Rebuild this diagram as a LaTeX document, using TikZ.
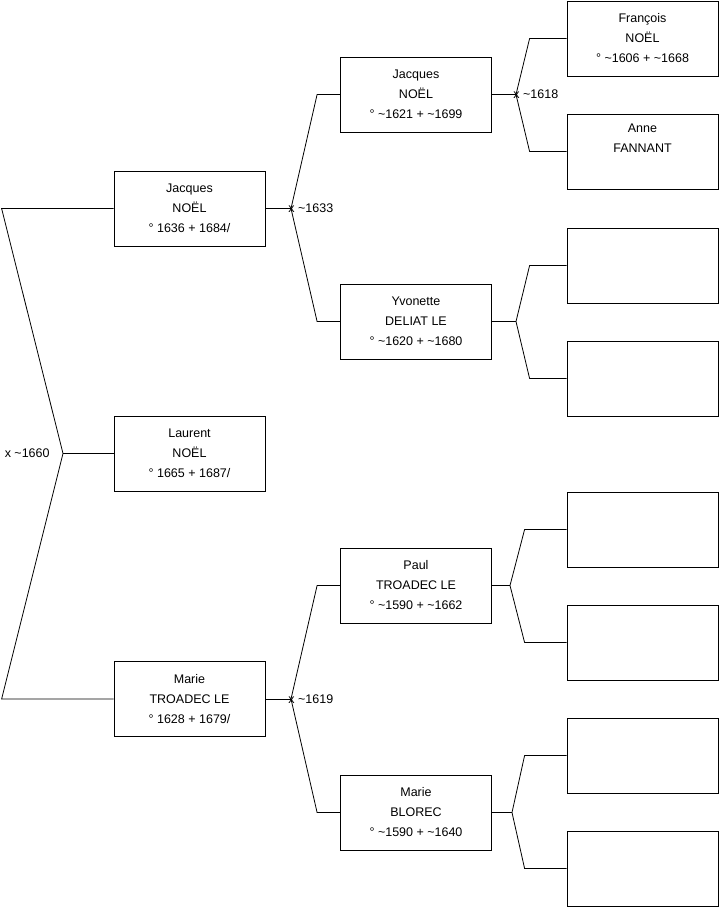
\documentclass[tikz,border=0pt]{standalone}
\usepackage{fontspec}
\setmainfont{Liberation Sans}
\usetikzlibrary{positioning}

\begin{document}
\begin{tikzpicture}[x=1pt, y=-1pt, line width=0.8pt,
    pbox/.style={rectangle, draw=black, minimum width=151pt, minimum height=75pt,
      inner sep=2pt, align=center, font=\fontsize{12.5}{20}\selectfont},
    mlabel/.style={inner sep=0pt, font=\fontsize{12.5}{14}\selectfont}
  ]
  \useasboundingbox (0,0) rectangle (719,908);
  % generation 1
  \node[pbox] (jacques) at (189.5,208.5) {Jacques\\NOËL\\° 1636 + 1684/};
  \node[pbox] (laurent) at (189.5,453.5) {Laurent\\NOËL\\° 1665 + 1687/};
  \node[pbox] (marie) at (189.5,699) {Marie\\TROADEC LE\\° 1628 + 1679/};
  % generation 2
  \node[pbox] (jacquesP) at (416,94.5) {Jacques\\NOËL\\° \textasciitilde1621 + \textasciitilde1699};
  \node[pbox] (yvonette) at (416,321.5) {Yvonette\\DELIAT LE\\° \textasciitilde1620 + \textasciitilde1680};
  \node[pbox] (paul) at (416,585.5) {Paul\\TROADEC LE\\° \textasciitilde1590 + \textasciitilde1662};
  \node[pbox] (marieB) at (416,812.5) {Marie\\BLOREC\\° \textasciitilde1590 + \textasciitilde1640};
  % generation 3
  \node[pbox] (francois) at (642.5,38.5) {François\\NOËL\\° \textasciitilde1606 + \textasciitilde1668};
  \node[pbox] (anne) at (642.5,151.5) {Anne\\FANNANT\\\strut};
  \foreach \n/\y in {e1/265.5, e2/378.5, e3/529.5, e4/642.5, e5/755.5, e6/868.5} {
    \node[pbox] (\n) at (642.5,\y) {};
  }
  % marriage points
  \coordinate (v1660) at (63,453.5);
  \coordinate (v1633) at (291,208.5);
  \coordinate (v1619) at (291,699);
  \coordinate (v1618) at (516,94.5);
  \coordinate (vYv) at (516,321.5);
  \coordinate (vPa) at (510,585.5);
  \coordinate (vMa) at (512,812.5);
  \node[mlabel, anchor=east] (l1660) at ([xshift=-13pt]v1660) {x \textasciitilde1660};
  \node[mlabel, anchor=west] (l1633) at ([xshift=-3pt]v1633) {x \textasciitilde1633};
  \node[mlabel, anchor=west] (l1619) at ([xshift=-3pt]v1619) {x \textasciitilde1619};
  \node[mlabel, anchor=west] (l1618) at ([xshift=-3pt]v1618) {x \textasciitilde1618};
  % links to parents
  \draw (laurent.west) -- (v1660);
  \draw (jacques.west) -- ([xshift=-112pt]jacques.west) -- (v1660) -- ([xshift=-112pt]marie.west) -- (marie.west);
  \draw (jacques.east) -- (v1633);
  \draw (jacquesP.west) -- ([xshift=-23pt]jacquesP.west) -- (v1633) -- ([xshift=-23pt]yvonette.west) -- (yvonette.west);
  \draw (marie.east) -- (v1619);
  \draw (paul.west) -- ([xshift=-23pt]paul.west) -- (v1619) -- ([xshift=-23pt]marieB.west) -- (marieB.west);
  \draw (jacquesP.east) -- (v1618);
  \draw (francois.west) -- ([xshift=-37pt]francois.west) -- (v1618) -- ([xshift=-37pt]anne.west) -- (anne.west);
  \draw (yvonette.east) -- (vYv);
  \draw (e1.west) -- ([xshift=-37pt]e1.west) -- (vYv) -- ([xshift=-37pt]e2.west) -- (e2.west);
  \draw (paul.east) -- (vPa);
  \draw (e3.west) -- ([xshift=-42pt]e3.west) -- (vPa) -- ([xshift=-42pt]e4.west) -- (e4.west);
  \draw (marieB.east) -- (vMa);
  \draw (e5.west) -- ([xshift=-42pt]e5.west) -- (vMa) -- ([xshift=-42pt]e6.west) -- (e6.west);
\end{tikzpicture}
\end{document}
